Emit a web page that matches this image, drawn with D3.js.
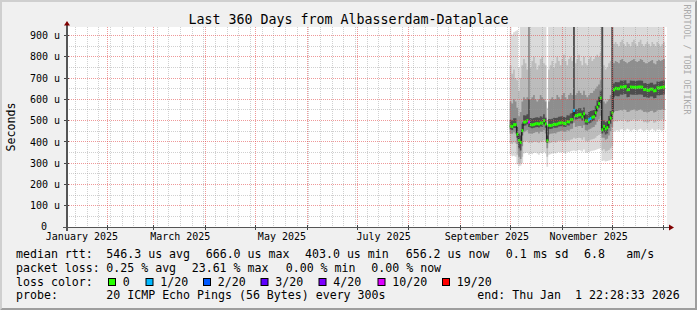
<!DOCTYPE html>
<html>
<head>
<meta charset="utf-8">
<script src="https://cdn.jsdelivr.net/npm/d3@7"></script>
<style>
  html, body { margin: 0; padding: 0; background: #f0f0f0; }
  svg { display: block; }
  text { font-family: "DejaVu Sans Mono", monospace; fill: #000; white-space: pre; }
</style>
</head>
<body>
<svg id="chart" width="697" height="310"></svg>
<script>
// one bucket per day, first bucket starts 30 Sep 2025 12:00 UTC
var firstDay = Date.UTC(2025, 8, 30, 12);
var dayMs = 86400000;

// median rtt per day, microseconds
var rttMedian = [474,472,481,481,436,406,398,453,493,494,
  500,493,481,480,482,485,486,484,489,488,
  500,484,405,478,477,479,483,482,484,488,
  489,490,487,486,495,494,504,505,548,523,
  524,528,528,518,532,499,498,504,510,516,
  518,537,563,580,606,457,473,461,467,492,
  512,536,645,652,650,650,658,657,659,660,
  645,646,658,657,657,656,657,658,658,657,
  646,647,642,643,648,648,640,641,654,653,
  655,657,658];

// smoke: ping distribution per day (min, 10%, 25%, 40%, 60%, 75%, 90%, max)
var rttMin = [340,332,335,330,295,285,288,300,345,348,
  350,340,345,342,348,350,345,340,348,346,
  352,345,283,340,342,345,348,345,350,352,
  350,352,348,346,354,352,356,358,360,356,
  358,362,360,355,364,350,348,352,356,358,
  360,362,366,368,370,310,312,308,310,312,
  315,318,448,452,455,450,458,460,452,455,
  462,458,450,455,460,456,452,458,462,455,
  450,455,460,452,456,462,455,450,458,460,
  455,452,458];
var rttP10 = [395,390,398,392,340,300,298,330,400,402,
  405,395,398,395,400,402,398,395,403,400,
  408,398,330,392,395,398,400,396,402,405,
  404,406,402,400,408,405,410,412,420,415,
  418,420,418,410,422,405,402,405,410,412,
  415,420,428,432,440,360,365,355,358,362,
  370,380,495,498,496,500,502,498,505,500,
  492,495,500,502,505,500,498,502,505,500,
  492,494,490,492,498,500,490,492,500,502,
  502,505,500];
var rttP25 = [440,438,445,440,390,330,320,380,445,450,
  455,440,440,438,442,445,446,440,448,446,
  455,440,370,435,438,440,442,440,445,448,
  450,452,448,446,455,452,460,462,490,470,
  472,475,475,465,478,455,452,458,462,468,
  470,480,495,505,520,420,420,410,415,430,
  450,470,540,545,545,548,550,548,552,550,
  540,542,548,550,552,548,546,550,552,548,
  540,542,538,540,545,546,538,540,548,550,
  550,552,550];
var rttP40 = [458,456,465,465,420,370,360,430,476,477,
  483,470,465,464,466,469,470,468,472,471,
  482,467,395,462,461,463,467,466,468,472,
  473,474,471,470,478,477,486,487,525,505,
  506,510,510,500,514,482,480,486,490,497,
  500,518,543,560,585,440,445,435,440,465,
  485,505,610,617,615,615,623,622,624,625,
  610,611,623,622,622,621,622,623,623,622,
  611,612,607,608,613,613,605,606,619,618,
  620,622,623];
var rttP60 = [504,502,511,511,470,440,430,485,525,524,
  530,600,512,510,512,515,516,514,520,518,
  530,514,430,508,507,509,513,512,514,518,
  519,520,517,516,525,524,534,536,980,553,
  554,558,558,548,562,530,528,540,545,548,
  550,570,595,612,640,980,500,492,498,522,
  545,980,675,682,680,680,688,687,689,690,
  675,676,688,687,687,686,687,688,688,687,
  676,677,672,673,678,678,670,671,684,683,
  685,687,688];
var rttP75 = [590,580,600,590,560,520,540,590,610,600,
  610,980,600,610,620,600,590,600,620,610,
  600,590,470,590,600,610,600,600,620,610,
  600,620,630,610,600,620,630,620,980,620,
  630,640,630,620,640,620,610,620,630,630,
  640,650,660,670,690,980,590,580,590,600,
  620,980,770,780,775,770,785,790,780,775,
  770,775,780,785,790,780,775,780,790,785,
  775,770,770,775,780,785,770,765,780,785,
  780,785,790];
var rttP90 = [760,720,740,700,690,640,700,760,790,770,
  740,980,750,780,800,770,740,760,790,800,
  770,760,500,740,760,780,750,770,800,780,
  760,790,810,780,760,790,800,780,980,770,
  790,810,780,760,800,770,760,790,800,780,
  790,800,810,800,820,980,760,740,750,770,
  780,980,860,870,860,850,870,880,860,850,
  870,860,850,870,880,860,850,870,880,860,
  850,860,870,860,850,870,860,850,870,860,
  850,860,870];
var rttMax = [975,905,915,920,925,750,960,975,980,980,
  980,980,980,980,980,980,980,980,980,980,
  980,980,560,980,980,980,980,980,980,980,
  980,980,980,980,980,980,980,980,980,980,
  980,980,980,980,980,980,980,980,980,980,
  980,980,980,980,980,980,980,980,980,980,
  980,980,980,980,980,980,980,980,980,980,
  980,980,980,980,980,980,980,980,980,980,
  980,980,980,980,980,980,980,980,980,980,
  980,980,980];

// lost pings (of 20) per day
var lossCount = [0,0,0,0,0,0,0,0,0,0,
  0,10,0,0,0,0,0,0,0,0,
  0,0,0,0,0,0,0,0,0,0,
  0,0,0,0,0,0,0,0,1,0,
  0,0,0,0,0,0,0,1,1,0,
  0,0,0,0,0,0,0,0,0,0,
  0,0,0,0,0,0,0,0,0,0,
  0,0,0,0,0,0,0,0,0,0,
  0,0,0,0,0,0,0,0,0,0,
  0,0,0];

var lossSteps = [0, 1, 2, 3, 4, 10, 19];
var lossLabels = ["0", "1/20", "2/20", "3/20", "4/20", "10/20", "19/20"];
var lossColors = ["#26ff00", "#00b8ff", "#0059ff", "#5e00ff", "#7e00ff", "#dd00ff", "#ff0000"];

var title = "Last 360 Days from Albasserdam-Dataplace";
var medianStats = ["546.3 us avg", "666.0 us max", "403.0 us min", "656.2 us now", "0.1 ms sd", "6.8", "am/s"];
var lossStats = ["0.25 % avg", "23.61 % max", "0.00 % min", "0.00 % now"];
var probeText = "20 ICMP Echo Pings (56 Bytes) every 300s";
var endText = "end: Thu Jan  1 22:28:33 2026";

// ---------------------------------------------------------------
var W = 697, H = 310;
var plot = {left: 67, right: 667, top: 27, bottom: 227};
var graphStart = Date.UTC(2025, 0, 7, 20);
var graphEnd = graphStart + 360 * dayMs;

var x = d3.scaleUtc().domain([graphStart, graphEnd]).range([plot.left, plot.right]);
var y = d3.scaleLinear().domain([0, 940]).range([plot.bottom, plot.top]);
var px = function(v) { return Math.floor(v) + 0.5; };

var days = rttMedian.map(function(m, i) {
  return {
    t: firstDay + i * dayMs, med: m, loss: lossCount[i],
    min: rttMin[i], p10: rttP10[i], p25: rttP25[i], p40: rttP40[i],
    p60: rttP60[i], p75: rttP75[i], p90: rttP90[i], max: rttMax[i]
  };
});
// close the last step
var stepped = days.concat([Object.assign({}, days[days.length - 1], {t: firstDay + days.length * dayMs})]);

var svg = d3.select("#chart");

// background + 3d frame
svg.append("rect").attr("width", W).attr("height", H).attr("fill", "#f0f0f0");
svg.append("path").attr("d", "M0,0H697L695,2H2V308L0,310Z").attr("fill", "#cfcfcf");
svg.append("path").attr("d", "M697,0V310H0L2,308H695V2Z").attr("fill", "#9e9e9e");

svg.append("rect")
  .attr("x", plot.left).attr("y", plot.top)
  .attr("width", plot.right - plot.left).attr("height", plot.bottom - plot.top)
  .attr("fill", "#fff");

svg.append("clipPath").attr("id", "clip")
  .append("rect")
  .attr("x", plot.left).attr("y", plot.top)
  .attr("width", plot.right - plot.left).attr("height", plot.bottom - plot.top);

var data = svg.append("g").attr("clip-path", "url(#clip)");

/* SMOKE */
var bands = [
  {lo: "min", hi: "max", color: "#dadada"},
  {lo: "p10", hi: "p90", color: "#bcbcbc"},
  {lo: "p25", hi: "p75", color: "#8e8e8e"},
  {lo: "p40", hi: "p60", color: "#4e4e4e"}
];

bands.forEach(function(b) {
  var area = d3.area()
    .curve(d3.curveStepAfter)
    .x(function(d) { return x(d.t); })
    .y0(function(d) { return y(d[b.lo]); })
    .y1(function(d) { return y(d[b.hi]); });
  data.append("path")
    .datum(stepped)
    .attr("d", area)
    .attr("fill", b.color);
});

/* GRID */
var grid = svg.append("g").attr("shape-rendering", "crispEdges").attr("stroke-dasharray", "1,1");
var majorY = y.ticks(10);
var minorY = y.ticks(20).filter(function(v) { return majorY.indexOf(v) < 0; });
var months = d3.utcMonth.range(graphStart, graphEnd);
var weeks = d3.utcMonday.range(graphStart, graphEnd);

grid.selectAll("line.minor-h")
  .data(minorY.filter(function(v) { return v > 0; }))
  .enter().append("line")
  .attr("x1", plot.left).attr("x2", plot.right)
  .attr("y1", function(d) { return px(y(d)); })
  .attr("y2", function(d) { return px(y(d)); })
  .attr("stroke", "rgba(150,150,150,0.45)");

grid.selectAll("line.minor-v")
  .data(weeks)
  .enter().append("line")
  .attr("x1", function(d) { return px(x(d)); })
  .attr("x2", function(d) { return px(x(d)); })
  .attr("y1", plot.top).attr("y2", plot.bottom)
  .attr("stroke", "rgba(150,150,150,0.45)");

grid.selectAll("line.major-h")
  .data(majorY.filter(function(v) { return v > 0; }))
  .enter().append("line")
  .attr("x1", plot.left).attr("x2", plot.right)
  .attr("y1", function(d) { return px(y(d)); })
  .attr("y2", function(d) { return px(y(d)); })
  .attr("stroke", "rgba(225,70,70,0.55)");

grid.selectAll("line.major-v")
  .data(months)
  .enter().append("line")
  .attr("x1", function(d) { return px(x(d)); })
  .attr("x2", function(d) { return px(x(d)); })
  .attr("y1", plot.top).attr("y2", plot.bottom)
  .attr("stroke", "rgba(225,70,70,0.55)");

/* MEDIAN */
var medLine = d3.line()
  .curve(d3.curveStepAfter)
  .x(function(d) { return x(d.t); })
  .y(function(d) { return y(d.med); });

data.append("path")
  .datum(stepped)
  .attr("d", medLine)
  .attr("fill", "none")
  .attr("stroke", "#202020")
  .attr("stroke-width", 1);

function lossColor(n) {
  var c = lossColors[0];
  lossSteps.forEach(function(s, k) { if (n >= s) c = lossColors[k]; });
  return c;
}

data.selectAll("rect.med")
  .data(days)
  .enter().append("rect")
  .attr("class", "med")
  .attr("x", function(d) { return x(d.t); })
  .attr("width", function(d) { return x(d.t + dayMs) - x(d.t) + 0.2; })
  .attr("y", function(d) { return y(d.med) - 1.5; })
  .attr("height", 3)
  .attr("fill", function(d) { return lossColor(d.loss); });

/* AXES */
var axes = svg.append("g").attr("shape-rendering", "crispEdges");

axes.selectAll("line.ytick")
  .data(majorY)
  .enter().append("line")
  .attr("x1", plot.left - 3).attr("x2", plot.left + 2)
  .attr("y1", function(d) { return px(y(d)); })
  .attr("y2", function(d) { return px(y(d)); })
  .attr("stroke", "#444");

axes.selectAll("line.xtick")
  .data(months)
  .enter().append("line")
  .attr("x1", function(d) { return px(x(d)); })
  .attr("x2", function(d) { return px(x(d)); })
  .attr("y1", plot.bottom - 2).attr("y2", plot.bottom + 3)
  .attr("stroke", "#444");

axes.append("line")
  .attr("x1", px(plot.left) - 0.5).attr("x2", px(plot.left) - 0.5)
  .attr("y1", plot.top - 3).attr("y2", plot.bottom + 4)
  .attr("stroke", "#555").attr("stroke-width", 2);
axes.append("line")
  .attr("x1", plot.left - 4).attr("x2", plot.right + 4)
  .attr("y1", px(plot.bottom)).attr("y2", px(plot.bottom))
  .attr("stroke", "#555").attr("stroke-width", 1.5);

svg.append("path")
  .attr("d", "M" + (plot.left - 3) + "," + (plot.top - 1.5) + "L" + plot.left + "," + (plot.top - 6) +
             "L" + (plot.left + 3) + "," + (plot.top - 1.5) + "Z")
  .attr("fill", "#800000");
svg.append("path")
  .attr("d", "M" + (plot.right + 2) + "," + (plot.bottom - 2.5) + "L" + (plot.right + 7) + "," + (plot.bottom + 0.5) +
             "L" + (plot.right + 2) + "," + (plot.bottom + 3.5) + "Z")
  .attr("fill", "#800000");

var yAxis = d3.axisLeft(y)
  .tickValues(majorY)
  .tickSize(0)
  .tickPadding(7)
  .tickFormat(function(d) { return d === 0 ? "0" : d + " u"; });

svg.append("g")
  .attr("transform", "translate(" + plot.left + ",0)")
  .call(yAxis)
  .call(function(g) { g.select(".domain").remove(); })
  .attr("font-family", "DejaVu Sans Mono")
  .attr("font-size", 10)
  .selectAll("text").attr("fill", "#000")
  .filter(function(d) { return d === 0; })
  .attr("x", -20).attr("dy", "0.2em");

var labelMonths = d3.utcMonth.every(2).range(Date.UTC(2025, 0, 1), graphEnd)
  .filter(function(m) { return m.getTime() + 15.5 * dayMs < graphEnd; });
var fmtMonth = d3.utcFormat("%B %Y");

var xAxis = d3.axisBottom(x)
  .tickValues(labelMonths.map(function(m) { return new Date(m.getTime() + 15.5 * dayMs); }))
  .tickSize(0)
  .tickPadding(5.6)
  .tickFormat(function(d) { return fmtMonth(d3.utcMonth.floor(d)); });

svg.append("g")
  .attr("transform", "translate(0," + plot.bottom + ")")
  .call(xAxis)
  .call(function(g) { g.select(".domain").remove(); })
  .attr("font-family", "DejaVu Sans Mono")
  .attr("font-size", 10)
  .selectAll("text").attr("fill", "#000");

/* TEXT */
svg.append("text")
  .attr("x", W / 2).attr("y", 24)
  .attr("text-anchor", "middle")
  .attr("font-size", 13.3)
  .text(title);

svg.append("text")
  .attr("transform", "translate(15," + ((plot.top + plot.bottom) / 2) + ") rotate(-90)")
  .attr("text-anchor", "middle")
  .attr("font-size", 11.6)
  .text("Seconds");

svg.append("text")
  .attr("transform", "translate(684.3,4.5) rotate(90)")
  .attr("font-size", 8.3)
  .style("fill", "#aaaaaa")
  .text("RRDTOOL / TOBI OETIKER");

var legend = svg.append("g").attr("font-size", 11.6);
var rowY = [258.3, 271.9, 285.6, 299.3];

function leg(xp, row, s) {
  legend.append("text").attr("x", xp).attr("y", rowY[row]).text(s);
}

leg(16, 0, "median rtt:");
[106.3, 205.7, 305, 405.7, 505.7, 584, 626.3].forEach(function(xp, k) { leg(xp, 0, medianStats[k]); });

leg(16, 1, "packet loss:");
[106.3, 191.7, 285.7, 371.3].forEach(function(xp, k) { leg(xp, 1, lossStats[k]); });

leg(16, 2, "loss color:");
[108.5, 146, 203.5, 261, 319, 378, 442.5].forEach(function(xp, k) {
  legend.append("rect")
    .attr("x", xp).attr("y", 278.5)
    .attr("width", 7).attr("height", 7)
    .attr("fill", lossColors[k])
    .attr("stroke", "#000").attr("stroke-width", 1);
  leg(xp + 14.3, 2, lossLabels[k]);
});

leg(16, 3, "probe:");
leg(106.3, 3, probeText);
leg(477.3, 3, endText);
</script>
</body>
</html>
